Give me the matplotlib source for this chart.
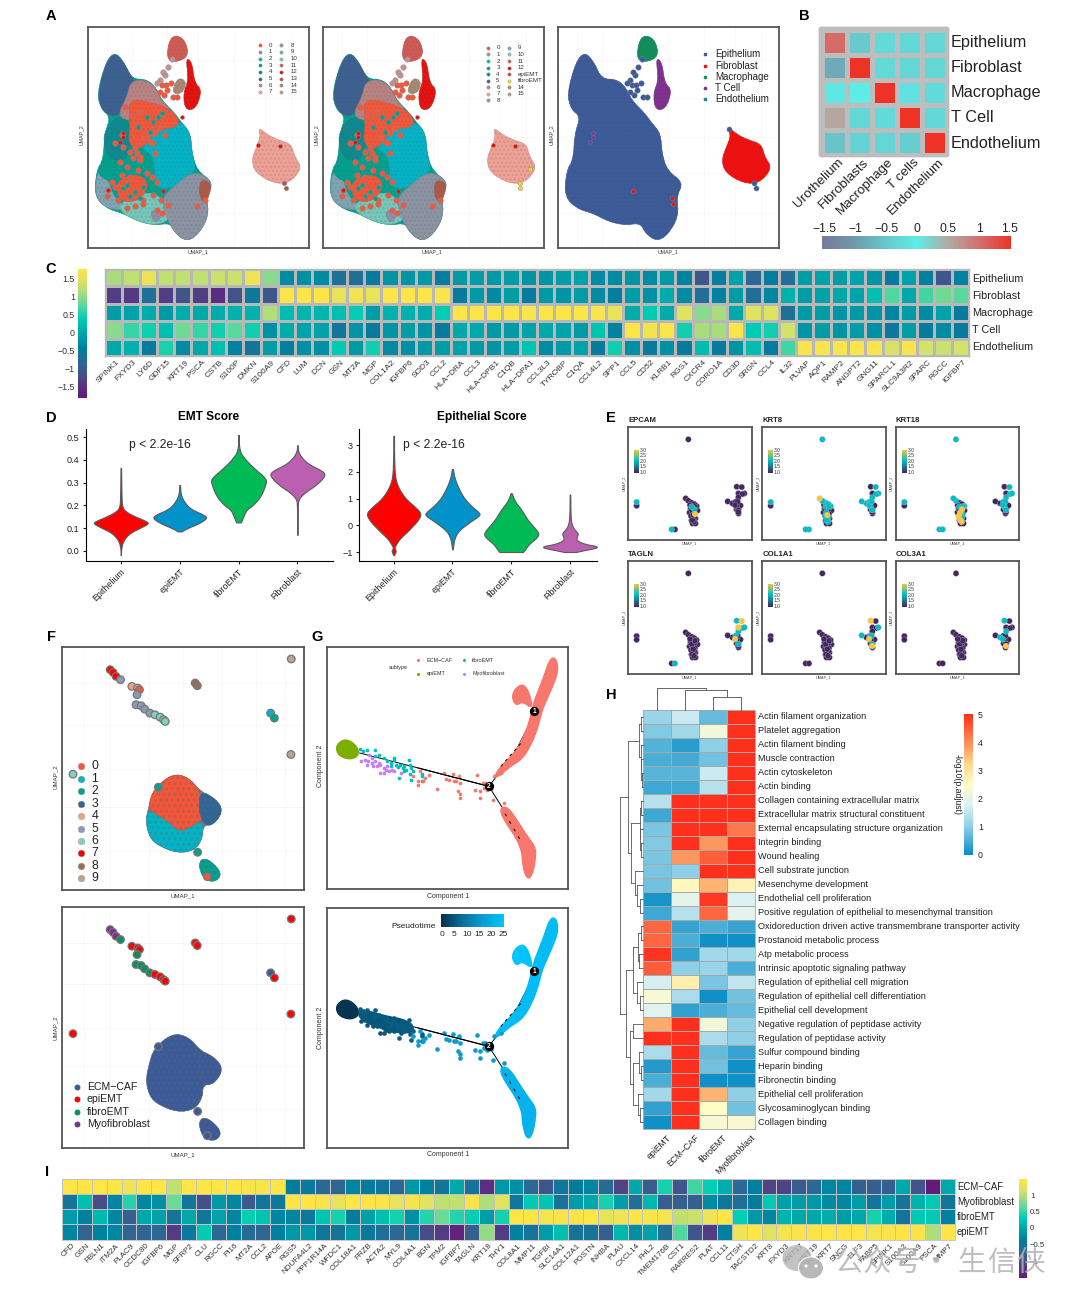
import matplotlib
matplotlib.use('Agg')
import matplotlib.pyplot as plt
import numpy as np
from matplotlib.colors import LinearSegmentedColormap, to_rgb
from matplotlib.patches import Polygon, Circle, Ellipse, FancyBboxPatch

plt.rcParams.update({
    'font.family': ['Liberation Sans', 'Noto Sans CJK SC', 'DejaVu Sans'],
    'hatch.linewidth': 0.3,
    'axes.linewidth': 0.8,
    'xtick.major.size': 2.5,
    'ytick.major.size': 2.5,
})

W, H = 1080, 1306
fig = plt.figure(figsize=(W / 100, H / 100), dpi=100)
BOX = '#555555'

# ========== colour scales ==========
CM_VIR = LinearSegmentedColormap.from_list('vir', [
    (0.00, '#65197c'), (0.16, '#4a4b87'), (0.27, '#2a6a94'), (0.38, '#007f9f'),
    (0.50, '#00a7aa'), (0.61, '#00cdb4'), (0.70, '#4fd8a0'), (0.81, '#a8dd7c'),
    (0.89, '#d8e268'), (1.00, '#ffe546')])
CM_B = LinearSegmentedColormap.from_list('b', [
    (0.00, '#787a9c'), (0.17, '#6f9aab'), (0.33, '#68c6ca'), (0.50, '#5ceee8'),
    (0.67, '#b3aaa3'), (0.83, '#d17270'), (1.00, '#ee3326')])
CM_H = LinearSegmentedColormap.from_list('h', [
    (0.00, '#0a8dc6'), (0.20, '#8fd0e6'), (0.36, '#dff2f3'), (0.50, '#fffcc6'),
    (0.64, '#fedb8e'), (0.80, '#fd8d5a'), (1.00, '#ff2f1e')])
CM_E = LinearSegmentedColormap.from_list('e', ['#43285e', '#00bcc4', '#fdc834'])
CM_PT = LinearSegmentedColormap.from_list('pt', ['#06304a', '#0a6f9a', '#0c9ed4', '#00c4ff'])

# ========== panel A ==========
A_C5 = [(225, 158), (250, 185), (272, 225), (285, 245), (268, 290), (245, 338), (215, 350), (186, 328), (174, 280), (200, 185)]
A_C6 = [(272, 243), (320, 240), (348, 265), (362, 300), (398, 335), (330, 335), (280, 365), (232, 348), (262, 290)]
A_C0 = [(265, 298), (330, 305), (398, 330), (425, 378), (350, 390), (305, 450), (265, 435), (272, 370)]
A_C4 = [(198, 385), (238, 345), (275, 370), (268, 475), (215, 485), (190, 430)]
A_C3 = [(190, 478), (262, 455), (355, 465), (355, 525), (220, 550), (172, 525)]
A_C2 = [(345, 380), (425, 365), (450, 400), (456, 460), (470, 515), (400, 565), (345, 565), (345, 470), (298, 440)]
A_C1 = [(395, 565), (465, 510), (520, 548), (500, 590), (506, 650), (474, 705), (440, 725), (405, 700), (380, 655), (365, 600)]
A_C9 = [(175, 505), (205, 540), (220, 590), (262, 630), (205, 628), (164, 590)]
A_C10 = [(238, 608), (330, 572), (375, 605), (392, 660), (345, 676), (300, 666), (245, 640)]
A_C0B = [(225, 545), (295, 520), (330, 555), (295, 605), (240, 605)]
A_C8 = [(330, 638), (350, 628), (366, 650), (345, 672)]
A_C13 = [(480, 538), (518, 550), (498, 615), (478, 590)]
A_C11 = [(388, 118), (410, 104), (437, 122), (446, 168), (410, 186), (380, 178)]
A_C12 = [(438, 172), (456, 186), (464, 248), (486, 270), (468, 326), (436, 330), (430, 280), (446, 240)]
A_C14 = [(395, 280), (413, 232), (440, 243), (428, 280)]
A_C7 = [(655, 382), (688, 408), (722, 422), (754, 433), (764, 470), (786, 505), (748, 550), (700, 550), (646, 518), (635, 480), (650, 440), (662, 410)]
A_MAIN = [(225, 155), (252, 185), (275, 236), (322, 238), (350, 265), (365, 300), (405, 340), (425, 368), (452, 400), (456, 460), (472, 512), (520, 548), (500, 590), (506, 650), (474, 705), (440, 725), (406, 700), (392, 670), (345, 676), (298, 666), (248, 640), (205, 628), (164, 592), (170, 512), (190, 480), (195, 400), (212, 350), (184, 328), (172, 280), (198, 185)]
A_ORANGE_X = [365, 378, 392, 380, 398, 372, 412, 360, 245, 225, 250, 270, 290, 300, 240, 262, 285, 340, 375, 345, 205, 200, 362, 385, 470, 495, 340, 310, 365, 350, 300,
              315, 330, 345, 360, 280, 295, 320, 270, 245, 225, 215, 235, 260, 285, 310, 335, 350, 275, 300, 255]
A_ORANGE_Y = [255, 255, 250, 270, 292, 285, 292, 275, 405, 430, 440, 455, 460, 480, 485, 500, 445, 430, 405, 460, 570, 590, 600, 615, 620, 600, 585, 600, 640, 630, 470,
              410, 425, 400, 385, 475, 510, 520, 530, 525, 560, 545, 600, 625, 620, 612, 530, 545, 345, 335, 320]
A_TEAL_X = [260, 285, 310, 270, 300, 250, 320, 340, 355, 295, 330, 365]
A_TEAL_Y = [555, 575, 560, 590, 595, 565, 350, 365, 350, 380, 395, 340]
A_ROSY_X = [360, 350, 375, 383, 395, 370]
A_ROSY_Y = [240, 248, 225, 200, 175, 215]
A_RED_X = [248, 240, 250, 655, 720, 205, 368, 425]
A_RED_Y = [398, 425, 412, 435, 437, 570, 572, 350]

A1_LABELS = [['0', '1', '2', '3', '4', '5', '6', '7'], ['8', '9', '10', '11', '12', '13', '14', '15']]
A1_COLORS = [['#f4563a', '#8c93a3', '#00b4c8', '#00a18f', '#0b8a90', '#3c5f92', '#b98283', '#f0a196'],
             ['#8f8fac', '#7fa5b5', '#74c9ba', '#d25a55', '#e80e0e', '#ad5a48', '#a68b72', '#b39a8f']]
A2_LABELS = [['0', '1', '2', '3', '4', '5', '6', '7', '8'], ['9', '10', '11', '12', 'epiEMT', 'fibroEMT', '14', '15']]
A2_COLORS = [['#f4563a', '#8c93a3', '#00b4c8', '#00a18f', '#0b8a90', '#3c5f92', '#b98283', '#f0a196', '#8f8fac'],
             ['#7fa5b5', '#74c9ba', '#d25a55', '#e80e0e', '#ad5a48', '#f5d327', '#a68b72', '#b39a8f']]
A3_LABELS = ['Epithelium', 'Fibroblast', 'Macrophage', 'T Cell', 'Endothelium']
A3_COLORS = ['#3b5a9a', '#f00f0f', '#0e8f5a', '#7f2f8f', '#0f8a8f']

# ========== panel B ==========
B_ROWS = ['Epithelium', 'Fibroblast', 'Macrophage', 'T Cell', 'Endothelium']
B_COLS = ['Urothelium', 'Fibroblasts', 'Macrophage', 'T cells', 'Endothelium']
B_VALUES = [[1.05, -0.45, -0.25, -0.3, -0.3],
            [-0.8, 1.5, -0.25, -0.3, -0.3],
            [-0.1, -0.03, 1.5, -0.15, -0.25],
            [0.55, -0.3, -0.25, 1.5, -0.3],
            [-0.55, -0.35, -0.3, -0.4, 1.5]]
B_TICKS = [-1.5, -1, -0.5, 0, 0.5, 1, 1.5]

# ========== panel C ==========
C_ROWS = ['Epithelium', 'Fibroblast', 'Macrophage', 'T Cell', 'Endothelium']
C_GENES = ['SPINK1', 'FXYD3', 'LY6D', 'GDF15', 'KRT19', 'PSCA', 'CSTB', 'S100P', 'DMKN', 'S100A9',
           'CFD', 'LUM', 'DCN', 'GSN', 'MT2A', 'MGP', 'COL1A2', 'IGFBP6', 'SOD3', 'CCL2',
           'HLA−DRA', 'CCL3', 'HLA−DPB1', 'C1QB', 'HLA−DPA1', 'CCL3L3', 'TYROBP', 'C1QA', 'CCL4L2', 'SPP1',
           'CCL5', 'CD52', 'KLRB1', 'RGS1', 'CXCR4', 'CORO1A', 'CD3D', 'SRGN', 'CCL4', 'IL32',
           'PLVAP', 'AQP1', 'RAMP2', 'ANGPT2', 'GNG11', 'SPARCL1', 'SLC9A3R2', 'SPARC', 'RGCC', 'IGFBP7']
C_EPI = [1.1, 1.25, 1.55, 1.25, 1.25, 1.25, 1.3, 1.3, 1.6, 0.95,
         -0.3, -0.25, -0.3, -0.7, -0.75, -0.5, -0.2, -0.2, -0.15, -0.45,
         -0.15, -0.1, -0.15, -0.1, -0.2, -0.2, -0.1, -0.05, -0.3, -0.3,
         -0.2, -0.3, -0.15, -0.4, -1.05, -0.45, -0.05, -0.85, -0.45, -0.75,
         -0.1, -0.05, -0.1, -0.05, -0.2, -0.5, -0.05, -0.45, -1.05, -0.4]
C_FIB = [-1.35, -1.4, -0.7, -1.35, -1.1, -1.35, -1.55, -1.1, -0.55, -1.05,
         1.75, 1.75, 1.75, 1.55, 1.6, 1.55, 1.75, 1.75, 1.75, 1.7,
         -0.5, -0.15, -0.3, -0.1, -0.5, -0.15, -0.2, -0.1, -0.3, -0.45,
         -0.1, -0.25, 0.05, -0.3, -0.75, -0.4, -0.1, -0.75, -0.35, 0.1,
         -0.1, -0.05, 0.0, -0.05, 0.25, 0.7, 0.0, 0.65, 0.85, 0.75]
C_MAC = [-0.1, -0.05, 0.05, -0.15, 0.05, 0.0, 0.05, 0.1, 0.1, 1.15,
         0.2, 0.15, 0.15, 0.25, 0.4, -0.1, 0.1, 0.1, 0.05, 0.4,
         1.75, 1.75, 1.75, 1.75, 1.7, 1.75, 1.75, 1.75, 1.7, 1.55,
         0.05, 0.35, 0.05, 1.45, 0.95, 1.1, 0.0, 1.45, 1.45, -0.7,
         -0.15, -0.1, -0.2, -0.15, -0.2, -0.35, -0.15, -0.3, -0.05, -0.5]
C_TC = [0.95, 0.6, 0.45, 0.25, 0.85, 0.6, 0.45, 0.75, 0.45, -0.25,
        0.05, -0.05, -0.05, -0.6, -0.2, -0.5, -0.2, -0.1, -0.2, -0.5,
        0.0, 0.0, -0.15, -0.15, -0.05, 0.0, -0.05, -0.15, 0.3, -0.4,
        1.75, 1.65, 1.75, 0.45, 1.1, 1.1, 1.75, 0.35, 0.45, 1.35,
        -0.2, -0.1, -0.2, -0.1, -0.25, -0.55, -0.1, -0.5, -0.3, -0.5]
C_END = [0.0, 0.1, -0.5, 0.5, -0.3, 0.0, 0.25, -0.4, -0.6, -0.1,
         -0.45, -0.25, -0.25, 0.35, -0.15, 0.45, -0.3, -0.25, -0.15, -0.1,
         -0.05, -0.15, -0.2, -0.1, 0.3, -0.3, -0.15, -0.05, -0.5, 0.45,
         -0.25, -0.5, -0.25, -0.5, 0.2, -0.5, -0.2, 0.2, -0.5, 0.65,
         1.7, 1.7, 1.7, 1.7, 1.7, 1.4, 1.7, 1.35, 1.3, 1.35]
C_TICKS = [1.5, 1, 0.5, 0, -0.5, -1, -1.5]

# ========== panel D: violin profiles (value, half width) ==========
D_CATS = ['Epithelium', 'epiEMT', 'fibroEMT', 'Fibroblast']
D_COLORS = ['#ff0000', '#0092c8', '#00ba55', '#bb60b0']
EMT_PROFILES = [
    [(-0.02, 0.0), (0.02, 0.01), (0.05, 0.05), (0.08, 0.16), (0.10, 0.32), (0.12, 0.47), (0.13, 0.44), (0.15, 0.25), (0.17, 0.1), (0.19, 0.02), (0.25, 0.01), (0.365, 0.005)],
    [(0.085, 0.03), (0.10, 0.13), (0.12, 0.32), (0.145, 0.47), (0.16, 0.4), (0.18, 0.22), (0.2, 0.12), (0.24, 0.02), (0.29, 0.005)],
    [(0.125, 0.04), (0.15, 0.08), (0.18, 0.13), (0.2, 0.24), (0.24, 0.38), (0.3, 0.47), (0.32, 0.46), (0.36, 0.28), (0.4, 0.12), (0.44, 0.01), (0.51, 0.005)],
    [(0.07, 0.003), (0.2, 0.005), (0.23, 0.02), (0.26, 0.14), (0.29, 0.32), (0.33, 0.47), (0.35, 0.44), (0.38, 0.2), (0.41, 0.07), (0.44, 0.01), (0.465, 0.003)]]
EPI_PROFILES = [
    [(-1.12, 0.005), (-1.05, 0.02), (-0.95, 0.04), (-0.85, 0.01), (-0.75, 0.03), (-0.5, 0.1), (-0.2, 0.25), (0.2, 0.42), (0.45, 0.47), (0.7, 0.36), (1.0, 0.2), (1.4, 0.08), (1.8, 0.02), (2.5, 0.008), (3.35, 0.005)],
    [(-0.9, 0.005), (-0.5, 0.03), (-0.2, 0.1), (0.1, 0.28), (0.35, 0.45), (0.45, 0.47), (0.7, 0.33), (1.0, 0.2), (1.4, 0.1), (1.8, 0.03), (2.1, 0.01)],
    [(-1.0, 0.2), (-0.95, 0.22), (-0.7, 0.3), (-0.45, 0.44), (-0.3, 0.47), (-0.1, 0.4), (0.2, 0.28), (0.6, 0.17), (0.9, 0.06), (1.2, 0.01)],
    [(-1.0, 0.1), (-0.95, 0.2), (-0.85, 0.44), (-0.78, 0.47), (-0.7, 0.25), (-0.55, 0.1), (-0.4, 0.12), (-0.3, 0.14), (-0.1, 0.05), (0.2, 0.01), (1.15, 0.005)]]

# ========== panel E ==========
E_GENES = ['EPCAM', 'KRT8', 'KRT18', 'TAGLN', 'COL1A1', 'COL3A1']
E_X = [180, 25, 25, 130, 140, 172, 180, 190, 198, 205, 190, 198, 192, 200, 188, 198, 192, 197, 190, 200, 185, 195,
       325, 340, 348, 330, 342, 298, 312, 322, 330, 325, 330, 330, 320, 328]
E_Y = [38, 226, 237, 308, 308, 215, 222, 228, 232, 238, 240, 248, 258, 262, 268, 272, 280, 285, 250, 240, 235, 265,
       180, 181, 200, 200, 202, 224, 230, 225, 212, 240, 250, 256, 235, 225]
E_EPCAM = [1, 2, 1, 2, 1, 1, 1, 1, 1, 1, 2, 2, 1, 3, 1, 1, 1, 1, 1, 1, 1, 1, 1, 1, 1, 1, 1, 1, 1, 1, 1, 1, 1, 1, 1, 1]
E_KRT8 = [2, 2, 1, 2, 2, 3, 2, 2, 2, 2, 2, 1, 2, 1, 2, 2, 2, 2, 1, 2, 1, 3, 1, 2, 2, 1, 2, 2, 2, 2, 2, 2, 2, 1, 2, 2]
E_KRT18 = [2, 2, 1, 2, 2, 2, 2, 1, 1, 2, 2, 3, 3, 2, 3, 2, 3, 3, 1, 2, 1, 2, 1, 2, 2, 1, 2, 1, 1, 2, 2, 2, 2, 1, 2, 2]
E_TAGLN = [1, 1, 1, 1, 2, 1, 1, 1, 1, 1, 1, 1, 1, 1, 1, 1, 1, 1, 1, 1, 1, 1, 2, 3, 2, 3, 2, 1, 1, 2, 2, 1, 2, 1, 3, 1]
E_COL1A1 = [1, 1, 1, 1, 1, 1, 1, 1, 1, 1, 1, 1, 1, 1, 1, 1, 1, 1, 1, 1, 1, 1, 3, 1, 2, 1, 1, 2, 1, 2, 1, 1, 2, 3, 3, 2]
E_COL3A1 = [1, 1, 1, 1, 1, 1, 1, 1, 1, 1, 1, 1, 1, 1, 1, 1, 1, 1, 1, 1, 1, 1, 2, 1, 1, 1, 1, 1, 2, 1, 2, 1, 1, 3, 2, 1]
E_VALUES = [E_EPCAM, E_KRT8, E_KRT18, E_TAGLN, E_COL1A1, E_COL3A1]
E_CORE_X = [185, 195, 200, 190, 197, 193, 185, 195, 188, 200, 192, 205, 183, 200, 325, 330, 322, 335, 328]
E_CORE_Y = [228, 236, 250, 255, 255, 245, 245, 275, 280, 275, 290, 250, 255, 290, 232, 243, 247, 235, 258]
E_TICKS = ['3.0', '2.5', '2.0', '1.5', '1.0']

# ========== panel F ==========
F_MAIN = [(385, 432), (432, 442), (468, 485), (512, 508), (532, 540), (512, 578), (474, 588), (474, 622), (452, 660), (400, 670), (336, 642), (316, 612), (309, 570), (318, 525), (332, 478)]
F_C0 = [(385, 432), (432, 442), (468, 488), (482, 562), (442, 590), (405, 606), (375, 575), (328, 548), (316, 525), (332, 478)]
F_C1 = [(316, 538), (375, 572), (405, 602), (442, 584), (474, 572), (474, 622), (452, 660), (400, 670), (336, 642), (316, 612), (309, 570)]
F_C3 = [(468, 482), (512, 508), (532, 540), (512, 578), (485, 590), (468, 562), (462, 530)]
F_C2 = [(470, 685), (497, 692), (530, 730), (512, 756), (478, 750), (462, 710)]
F_SX = [205, 213, 222, 235, 268, 285, 290, 283, 280, 295, 305, 320, 335, 350, 360, 365, 452, 458, 731, 730, 671, 682, 97, 487, 345, 459]
F_SY = [120, 128, 140, 150, 170, 175, 180, 195, 225, 228, 238, 250, 255, 262, 270, 275, 160, 168, 88, 374, 250, 265, 433, 740, 472, 667]
F1_SC = ['#f00', '#f00', '#f00', '#8c9ab8', '#f0a080', '#f0a080', '#f4563a', '#8c9ab8', '#8c9ab8', '#8c9ab8', '#8c9ab8', '#8c9ab8',
         '#7fd0bd', '#7fd0bd', '#7fd0bd', '#7fd0bd', '#9a6f57', '#9a6f57', '#b9a48f', '#b9a48f', '#00b4c8', '#00a18f', '#7fd0bd', '#f4563a', '#00a18f', '#00a18f']
F2_SC = ['#7f2f8f', '#7f2f8f', '#7f2f8f', '#0e8f5a', '#f00', '#f00', '#f00', '#0e8f5a', '#0e8f5a', '#0e8f5a', '#0e8f5a', '#0e8f5a',
         '#f00', '#f00', '#f00', '#f00', '#f00', '#f00', '#f00', '#f00', '#3b5a9a', '#f00', '#f00', '#3b5a9a', '#3b5a9a', '#3b5a9a']
F_LEGEND_C = ['#f4563a', '#00b4c8', '#00a18f', '#2f6496', '#f0a080', '#8c9ab8', '#7fd0bd', '#f00000', '#9a6f57', '#b9a48f']
F2_LABELS = ['ECM−CAF', 'epiEMT', 'fibroEMT', 'Myofibroblast']
F2_COLORS = ['#3b5a9a', '#f00', '#0e8f5a', '#7f2f8f']

# ========== panel G ==========
G_UP = [(1478, 100), (1465, 140), (1450, 180), (1435, 220), (1425, 265), (1415, 300), (1395, 345), (1370, 380), (1340, 410), (1322, 438),
        (1332, 442), (1365, 412), (1402, 388), (1427, 347), (1447, 295), (1460, 240), (1482, 190), (1506, 130), (1503, 92), (1490, 82)]
G_LOW = [(1345, 530), (1365, 538), (1392, 580), (1417, 620), (1442, 655), (1440, 690), (1434, 725), (1423, 748), (1411, 738), (1403, 700), (1401, 665), (1383, 622), (1353, 577), (1338, 545)]
G_LOBE = [(1405, 162), (1422, 188), (1433, 238), (1402, 215), (1385, 228), (1372, 205), (1380, 178)]
G_START = [(888, 326), (922, 348), (928, 378), (902, 390), (868, 378), (860, 348)]
G_CY_X = [930, 940, 950, 975, 975, 985, 1000, 1010, 1030, 1030, 1020, 1035, 1048, 1055, 1065, 1072, 1075, 1078, 1085, 1058, 1045, 1075, 1080, 1110, 1110, 1110, 1020, 1040, 1060]
G_CY_Y = [358, 365, 362, 360, 380, 375, 385, 395, 385, 392, 410, 405, 405, 415, 420, 390, 405, 415, 425, 425, 445, 432, 452, 432, 440, 455, 400, 412, 410]
G_MG_X = [935, 950, 958, 965, 965, 975, 980, 990, 990, 1000, 1005, 1015, 1000, 1025, 955, 970, 985, 945, 1010, 1030, 1050]
G_MG_Y = [395, 405, 375, 385, 400, 395, 410, 405, 430, 415, 420, 425, 430, 420, 395, 408, 400, 390, 410, 425, 430]
G_SA_X = [1100, 1115, 1100, 1130, 1155, 1175, 1180, 1190, 1200, 1205, 1210, 1218, 1222, 1215, 1222, 1222, 1272, 1265, 1278, 1288, 1295, 1278, 1318, 1340, 1320, 1105, 1120, 1085, 1300, 1310, 1290, 1350]
G_SA_Y = [455, 455, 465, 435, 478, 430, 448, 452, 432, 455, 455, 440, 460, 485, 492, 505, 435, 480, 485, 460, 460, 505, 512, 430, 440, 425, 445, 440, 480, 478, 475, 520]
G_BAND = [(930, 356), (1000, 378), (1072, 392), (1092, 425), (1050, 432), (985, 415), (925, 385)]
G_TRUNK_X = [930, 1100, 1305, 1380, 1425, 1437, 1470]
G_TRUNK_Y = [370, 415, 470, 370, 280, 245, 150]
G_LEG_X = [1305, 1345, 1395, 1420]
G_LEG_Y = [470, 535, 620, 740]
G_DASH_UP_X = [1340, 1403]
G_DASH_UP_Y = [410, 335]
G_DASH_LOW_X = [1352, 1397]
G_DASH_LOW_Y = [552, 632]
G_PT_TICKS = [0, 5, 10, 15, 20, 25]

# ========== panel H ==========
H_TERMS = ['Actin filament organization', 'Platelet aggregation', 'Actin filament binding', 'Muscle contraction',
           'Actin cytoskeleton', 'Actin binding', 'Collagen containing extracellular matrix',
           'Extracellular matrix structural constituent', 'External encapsulating structure organization',
           'Integrin binding', 'Wound healing', 'Cell substrate junction', 'Mesenchyme development',
           'Endothelial cell proliferation', 'Positive regulation of epithelial to mesenchymal transition',
           'Oxidoreduction driven active transmembrane transporter activity', 'Prostanoid metabolic process',
           'Atp metabolic process', 'Intrinsic apoptotic signaling pathway', 'Regulation of epithelial cell migration',
           'Regulation of epithelial cell differentiation', 'Epithelial cell development',
           'Negative regulation of peptidase activity', 'Regulation of peptidase activity', 'Sulfur compound binding',
           'Heparin binding', 'Fibronectin binding', 'Epithelial cell proliferation', 'Glycosaminoglycan binding',
           'Collagen binding']
H_COLS = ['epiEMT', 'ECM−CAF', 'fibroEMT', 'Myofibroblast']
H_EPI = [1.1, 0.9, 0.55, 0.5, 0.6, 0.4, 1.4, 0.4, 0.85, 0.9, 0.85, 0.85, 0.8, 0.1, 0.4,
         4.4, 4.4, 4.95, 4.5, 1.7, 2.3, 1.85, 3.7, 5, 1.3, 0.2, 0.5, 1.2, 0.3, 0.05]
H_ECM = [1.6, 1.2, 0.25, 0.45, 0.6, 0.4, 5, 5, 5, 5, 3.9, 1.0, 2.6, 1.95, 1.4,
         0.35, 0.5, 0.3, 1.0, 2.8, 1.3, 0.3, 5, 5, 5, 5, 5, 5, 5, 5]
H_FIB = [0.7, 2.2, 1.0, 0.8, 1.6, 1.4, 5, 5, 5, 3.9, 4.5, 5, 3.6, 4.9, 4.4,
         0.5, 0.05, 1.2, 1.1, 0.85, 0.05, 0.5, 2.2, 1.3, 0.7, 0.8, 0.05, 3.6, 2.5, 2.3]
H_MYO = [5, 5, 5, 5, 5, 5, 5, 5, 4.2, 5, 5, 5, 2.7, 1.75, 1.9,
         0.35, 0.05, 1.2, 0.5, 1.5, 0.8, 0.7, 1.0, 1.0, 0.35, 0.05, 0.05, 1.0, 0.8, 2.3]
H_ROW_TREE = (22.7,
              (15, (4, (2.5, 0, 1), (2, 2, (1.8, 3, (1.5, 4, 5)))),
               (12, (3.5, (2, 6, 7), (3, 8, (2, 9, 10))), (8, 11, (6.5, 12, (3, 13, 14))))),
              (17, (10, (5, (2.5, 15, 16), (4, 17, 18)), (6.5, 19, (3, 20, 21))),
               (12.7, (10, 22, 23), (10, (4.5, 24, (2.5, 25, 26)), (5.5, 27, (3, 28, 29))))))
H_COL_TREE = (22, 0, (20, 1, (13, 2, 3)))

# ========== panel I ==========
I_ROWS = ['ECM−CAF', 'Myofibroblast', 'fibroEMT', 'epiEMT']
I_GENES = ['CFD', 'GSN', 'FBLN1', 'ITM2A', 'PLAC9', 'CCDC80', 'IGFBP6', 'MGP', 'SFRP2', 'CLU', 'RGCC', 'PI16', 'MT2A', 'CCL2', 'APOE',
           'RGS5', 'NDUFA4L2', 'PPP1R14A', 'WFDC1', 'COL18A1', 'FRZB', 'ACTA2', 'MYL9', 'COL4A1', 'BGN', 'TPM2', 'IGFBP7', 'TAGLN', 'KRT18', 'THY1',
           'COL8A1', 'MMP11', 'TGFBI', 'SLC14A1', 'COL12A1', 'POSTN', 'INHBA', 'PLAU', 'CXCL14', 'FHL2', 'TMEM176B', 'CST1', 'RARRES2', 'PLAT', 'CCL11',
           'CTSH', 'TACSTD2', 'KRT8', 'FXYD3', 'KRT17', 'KRT19', 'KRT7', 'SNCG', 'ELF3', 'FABP5', 'SPINK1', 'S100A2', 'S100A9', 'PSCA', 'MMP7']
I_ECM = [1.5, 1.5, 1.5, 1.5, 1.35, 1.5, 1.5, 1.05, 1.5, 1.5, 1.5, 1.5, 1.45, 1.45, 1.5,
         -0.4, -0.45, -0.7, -0.75, -0.3, -0.4, -0.5, -0.7, -0.15, -0.35, -0.5, 0.0, -0.55, -1.3, -0.15,
         -0.2, -0.7, -0.9, -0.5, -0.4, -0.3, -0.65, -1.1, 0.0, -0.85, 0.4, -0.9, 0.55, 0.35, 0.05,
         -0.7, -0.35, -1.1, -1.1, -0.85, -0.7, -0.3, -0.3, -0.8, -0.8, -0.8, 0.0, -0.9, -1.5, 0.0]
I_MYO = [-0.55, 0.2, -1.0, -0.3, 0.45, -0.3, -0.2, 0.7, -0.5, -0.95, -0.15, -0.3, -0.85, -0.5, -0.45,
         1.5, 1.5, 1.45, 1.3, 1.5, 1.5, 1.45, 1.3, 1.45, 1.25, 1.05, 1.05, 1.45, 0.95, 1.25,
         -0.45, 0.3, 0.25, -0.55, -0.1, 0.0, 0.4, -0.1, -0.6, 0.15, -0.8, -0.8, -0.8, -0.25, -0.45,
         -0.6, -0.4, 0.3, -0.05, -0.1, -0.15, -0.25, -0.3, -0.1, -0.5, -0.1, -0.55, 0.1, 0.3, -0.5]
I_FIB = [-0.1, -0.35, 0.15, -0.3, -0.8, 0.0, -0.05, -0.55, 0.0, -0.5, -0.05, -0.3, 0.35, 0.25, -0.3,
         -0.3, -0.45, 0.25, 0.4, -0.4, -0.05, 0.2, 0.4, -0.2, 0.45, 0.7, 0.45, 0.35, -0.1, 0.4,
         1.5, 1.5, 1.4, 1.45, 1.45, 1.5, 1.3, 1.35, 1.5, 1.45, 1.4, 1.05, 1.1, 1.35, 1.5,
         0.35, -0.15, -0.3, 0.1, 0.0, 0.0, 0.05, -0.1, 0.0, 0.4, 0.05, -0.5, 0.3, 0.3, -0.35]
I_EPI = [-0.3, -0.75, -0.35, -0.3, -0.75, -0.75, -0.7, -1.15, -0.45, 0.3, -0.7, -0.35, -0.65, -0.75, -0.35,
         -0.15, -0.15, -0.5, -0.55, -0.15, -0.45, -0.6, -0.7, -0.55, -1.0, -1.15, -1.4, -0.8, 0.85, -1.15,
         -0.35, -0.55, -0.1, 0.2, -0.55, -0.55, -0.8, 0.15, -0.2, -0.05, -0.6, 0.6, -0.9, -1.15, -0.35,
         1.35, 1.5, 1.25, 1.4, 1.45, 1.45, 1.5, 1.5, 1.5, 1.4, 1.45, 1.5, 1.45, 0.95, 1.5]
I_TICKS = [1, 0.5, 0, -0.5, -1]


def px_axes(x0, y0, x1, y1, **kwargs):
    """axes from pixel corners of the 1080x1306 canvas"""
    return fig.add_axes([x0 / W, 1 - y1 / H, (x1 - x0) / W, (y1 - y0) / H], **kwargs)


def box_axes(x0, y0, x1, y1, xlim, ylim, grid=True):
    """framed panel whose data units are read straight off the picture"""
    ax = px_axes(x0, y0, x1, y1)
    ax.set_xlim(*xlim)
    ax.set_ylim(ylim[1], ylim[0])
    ax.set_xticks([])
    ax.set_yticks([])
    for s in ax.spines.values():
        s.set_color(BOX)
        s.set_linewidth(1.3)
    if grid:
        for f in (0.09, 0.2, 0.36, 0.5, 0.66, 0.8, 0.92):
            ax.axvline(xlim[0] + f * (xlim[1] - xlim[0]), color='#f4f4f4', lw=0.5, zorder=0)
        for f in (0.15, 0.32, 0.5, 0.66, 0.84):
            ax.axhline(ylim[0] + f * (ylim[1] - ylim[0]), color='#f4f4f4', lw=0.5, zorder=0)
    return ax


def rounded(pts, closed=True, n=2):
    """corner cutting, only so that outlines and profiles do not look faceted"""
    p = np.array(pts, dtype=float)
    for _ in range(n):
        a = p if closed else p[:-1]
        b = np.roll(p, -1, axis=0) if closed else p[1:]
        q = np.empty((2 * len(a), 2))
        q[0::2] = 0.75 * a + 0.25 * b
        q[1::2] = 0.25 * a + 0.75 * b
        p = q if closed else np.vstack([p[0], q, p[-1]])
    return p


def blob(ax, pts, color, hatch='oooo', mix=0.22, z=2):
    rim = tuple(np.array(to_rgb(color)) * (1 - mix) + np.array(to_rgb('#666666')) * mix)
    ax.add_patch(Polygon(rounded(pts), closed=True, facecolor=color, edgecolor=rim,
                         lw=0.5, hatch=hatch, joinstyle='round', zorder=z))


def solid(ax, pts, color, z=2):
    ax.add_patch(Polygon(rounded(pts), closed=True, facecolor=color, edgecolor=color, lw=1.0, zorder=z))


def dots(ax, xs, ys, color, s=16, edge='#8a8a8a', z=4):
    ax.scatter(xs, ys, s=s, c=color, edgecolors=edge, linewidths=0.3, zorder=z)


def heat(x0, y0, x1, y1, values, cmap, vmin, vmax, edge, lw):
    ax = px_axes(x0, y0, x1, y1)
    ax.pcolormesh(np.array(values, dtype=float), cmap=cmap, vmin=vmin, vmax=vmax,
                  edgecolors=edge, linewidth=lw)
    ax.invert_yaxis()
    ax.set_yticks([])
    ax.set_xticks([])
    for s in ax.spines.values():
        s.set_color(edge)
        s.set_linewidth(lw)
    return ax


def vbar(x0, y0, x1, y1, cmap):
    ax = px_axes(x0, y0, x1, y1)
    ax.imshow(np.linspace(1, 0, 256).reshape(-1, 1), cmap=cmap, aspect='auto', vmin=0, vmax=1)
    ax.axis('off')


def violin(ax, pos, profile, color):
    p = rounded(profile, closed=False)
    ax.fill_betweenx(p[:, 0], pos - p[:, 1], pos + p[:, 1], facecolor=color, edgecolor='#5a5a5a', lw=0.8, zorder=3)


def tree(node, leaf_pos, seg):
    """walks a nested (height, left, right) tree, returns position and height"""
    if isinstance(node, int):
        return leaf_pos(node), 0
    h, a, b = node
    pa, ha = tree(a, leaf_pos, seg)
    pb, hb = tree(b, leaf_pos, seg)
    seg(pa, ha, pa, h)
    seg(pb, hb, pb, h)
    seg(pa, h, pb, h)
    return (pa + pb) / 2, h


# overlay for panel letters and stray labels, in canvas pixels
ov = px_axes(0, 0, W, H, zorder=20)
ov.set_xlim(0, W)
ov.set_ylim(H, 0)
ov.axis('off')
ov.patch.set_alpha(0)

for letter, lx, ly in [('A', 51, 16), ('B', 804, 16), ('C', 51, 269), ('D', 51, 418), ('E', 611, 418),
                       ('F', 51, 637), ('G', 317, 637), ('H', 611, 695), ('I', 47, 1172)]:
    ov.text(lx, ly, letter, fontsize=10.5, fontweight='bold', ha='center', va='center', color='black')

# ---------- A ----------
A_LIM_X, A_LIM_Y = (143, 807), (80, 745)
for i, x0 in enumerate((87.5, 322.5, 557.5)):
    ax = box_axes(x0, 27, x0 + 221.5, 248, A_LIM_X, A_LIM_Y)
    if i < 2:
        blob(ax, A_MAIN, '#00a18f')
        for pts, c in [(A_C9, '#7fa5b5'), (A_C10, '#74c9ba'), (A_C3, '#00a18f'), (A_C2, '#00b4c8'), (A_C4, '#0b8a90'),
                       (A_C1, '#8c93a3'), (A_C5, '#3c5f92'), (A_C6, '#b98283'), (A_C0, '#f4563a'), (A_C0B, '#f4563a'),
                       (A_C8, '#8f8fac'), (A_C13, '#ad5a48'), (A_C11, '#d25a55'), (A_C12, '#e80e0e'),
                       (A_C14, '#a68b72'), (A_C7, '#f0a196')]:
            blob(ax, pts, c)
        dots(ax, A_ORANGE_X, A_ORANGE_Y, '#f4563a')
        dots(ax, A_TEAL_X, A_TEAL_Y, '#00a18f', s=12)
        dots(ax, A_ROSY_X, A_ROSY_Y, '#c79090')
        dots(ax, A_RED_X, A_RED_Y, '#e80e0e', s=8)
    else:
        blob(ax, A_MAIN, '#3b5a9a')
        blob(ax, A_C11, '#0e8f5a')
        blob(ax, A_C12, '#7f2f8f')
        blob(ax, A_C7, '#f00f0f', mix=0.12)
        dots(ax, A_ORANGE_X[:8], A_ORANGE_Y[:8], '#3b5a9a')
        dots(ax, A_ROSY_X, A_ROSY_Y, '#3b5a9a')
        dots(ax, A_RED_X[:3], A_RED_Y[:3], '#7f2f8f', s=6)
        dots(ax, A_RED_X[6:7], A_RED_Y[6:7], '#f00f0f', s=10)
    if i == 0:
        dots(ax, [733, 737], [550, 565], '#ad5a48', s=10)
    if i == 1:
        dots(ax, [734, 736, 764], [548, 565, 507], '#f5d327', s=10)
    if i == 2:
        dots(ax, [657, 733, 737], [388, 550, 565], '#3b5a9a', s=14)
        dots(ax, [487, 488], [595, 613], '#f00f0f', s=10)

    if i == 0:
        for col, (lx, tx) in enumerate([(660, 687), (724, 752)]):
            for r, (lab, c) in enumerate(zip(A1_LABELS[col], A1_COLORS[col])):
                ax.scatter(lx, 135 + r * 20, s=6, c=c, edgecolors='#888', linewidths=0.2, zorder=6)
                ax.text(tx, 135 + r * 20, lab, fontsize=4.4, va='center', color='#333')
    elif i == 1:
        for col, (lx, tx) in enumerate([(638, 664), (701, 729)]):
            for r, (lab, c) in enumerate(zip(A2_LABELS[col], A2_COLORS[col])):
                ax.scatter(lx, 143 + r * 19.7, s=6, c=c, edgecolors='#888', linewidths=0.2, zorder=6)
                ax.text(tx, 143 + r * 19.7, lab, fontsize=4.4, va='center', color='#333')
    else:
        for r, (lab, c) in enumerate(zip(A3_LABELS, A3_COLORS)):
            ax.scatter(586, 162 + r * 34, s=7, c=c, linewidths=0, zorder=6)
            ax.text(615, 162 + r * 34, lab, fontsize=7, va='center', color='#222')
    ov.text(x0 + 110, 251.5, 'UMAP_1', fontsize=3.8, ha='center', va='center', color='#333')
    ov.text(x0 - 6, 135, 'UMAP_2', fontsize=3.8, rotation=90, ha='center', va='center', color='#333')

# ---------- B ----------
ov_b = FancyBboxPatch((820, 28), 128, 128, boxstyle='round,pad=1,rounding_size=2', facecolor='#bdbdbd', edgecolor='#bdbdbd', lw=0.5, zorder=0)
bg_ax = px_axes(0, 0, W, H, zorder=0)
bg_ax.set_xlim(0, W)
bg_ax.set_ylim(H, 0)
bg_ax.axis('off')
bg_ax.add_patch(ov_b)
ax_b = px_axes(821.5, 30, 946.5, 155, zorder=1)
ax_b.pcolormesh(np.array(B_VALUES), cmap=CM_B, vmin=-1.5, vmax=1.5, edgecolors='#bdbdbd', linewidth=2.4)
ax_b.invert_yaxis()
ax_b.axis('off')
for r, name in enumerate(B_ROWS):
    ov.text(951, 43 + r * 25, name, fontsize=11.7, va='center', color='#222')
for c, name in enumerate(B_COLS):
    ov.text(837 + c * 25.2, 156, name, fontsize=9.6, rotation=45, ha='right', va='top', rotation_mode='anchor', color='#222')
ax_bc = px_axes(822, 236, 1011, 249)
ax_bc.imshow(np.linspace(0, 1, 256).reshape(1, -1), cmap=CM_B, aspect='auto', vmin=0, vmax=1)
ax_bc.axis('off')
for v in B_TICKS:
    label = ('%g' % v).replace('-', '−')
    ov.text(917 + v * 62, 229, label, fontsize=8.7, ha='center', va='center', color='#222')

# ---------- C ----------
ax_c = heat(105, 268.5, 969, 356, [C_EPI, C_FIB, C_MAC, C_TC, C_END], CM_VIR, -1.78, 1.78, '#b8b8b8', 1.0)
ax_c.set_xticks(np.arange(len(C_GENES)) + 0.62)
ax_c.set_xticklabels(C_GENES, rotation=45, ha='right', rotation_mode='anchor', fontsize=6.0, color='#333')
ax_c.tick_params(axis='x', length=0, pad=2)
for r, name in enumerate(C_ROWS):
    ov.text(972, 278.5 + r * 17.2, name, fontsize=7.8, va='center', color='#222')
vbar(78, 269, 87, 398, CM_VIR)
for v in C_TICKS:
    label = ('%g' % v).replace('-', '−')
    ov.text(75, 334 - v * 36, label, fontsize=6.3, ha='right', va='center', color='#333')

# ---------- D ----------
ax_d1 = px_axes(85.5, 429, 332.7, 561)
ax_d2 = px_axes(359, 429, 597, 561)
for a, profiles in [(ax_d1, EMT_PROFILES), (ax_d2, EPI_PROFILES)]:
    for i, prof in enumerate(profiles):
        violin(a, i, prof, D_COLORS[i])
    a.spines['top'].set_visible(False)
    a.spines['right'].set_visible(False)
    a.set_xticks(range(4))
    a.set_xticklabels(D_CATS, rotation=45, ha='right', rotation_mode='anchor', color='#222')
    a.tick_params(labelsize=6.6, pad=2, colors='#222')
    a.tick_params(axis='x', labelsize=6.4)
ax_d1.set_xlim(-0.6, 3.6)
ax_d1.set_ylim(-0.045, 0.536)
ax_d1.set_yticks([0, 0.1, 0.2, 0.3, 0.4, 0.5])
ax_d2.set_xlim(-0.59, 3.46)
ax_d2.set_ylim(-1.336, 3.6)
ax_d2.set_yticks([-1, 0, 1, 2, 3])
ax_d2.set_yticklabels(['−1', '0', '1', '2', '3'])
ov.text(209, 417, 'EMT Score', fontsize=8.6, fontweight='bold', ha='center', va='center')
ov.text(482, 417, 'Epithelial Score', fontsize=8.6, fontweight='bold', ha='center', va='center')
ov.text(129, 445, 'p < 2.2e-16', fontsize=8.7, va='center', color='#222')
ov.text(403, 445, 'p < 2.2e-16', fontsize=8.7, va='center', color='#222')

# ---------- E ----------
E_COLS = (628.3, 762.3, 896)
E_ROWS = (426.7, 560.7)
for g, gene in enumerate(E_GENES):
    x0, y0 = E_COLS[g % 3], E_ROWS[g // 3]
    ax = box_axes(x0, y0, x0 + 123.4, y0 + 113.4, (0, 370), (0, 340), grid=False)
    ax.scatter(E_CORE_X, E_CORE_Y, c='#43285e', s=18, edgecolors='#c9c2d6', linewidths=0.2, zorder=2)
    order = np.argsort(E_VALUES[g])
    ax.scatter(np.array(E_X)[order], np.array(E_Y)[order], c=np.array(E_VALUES[g])[order], cmap=CM_E, vmin=1, vmax=3,
               s=18, edgecolors='#c9c2d6', linewidths=0.2, zorder=3)
    bar = px_axes(x0 + 5.7, y0 + 23, x0 + 10.7, y0 + 46)
    bar.imshow(np.linspace(1, 0, 64).reshape(-1, 1), cmap=CM_E, aspect='auto')
    bar.axis('off')
    for t, label in enumerate(E_TICKS):
        ov.text(x0 + 11.5, y0 + 23.5 + t * 5.6, label, fontsize=3.6, va='center', color='#333')
    ov.text(x0, y0 - 6, gene, fontsize=5.6, fontweight='bold', va='center', color='#222')
    ov.text(x0 + 61, y0 + 117, 'UMAP_1', fontsize=2.8, ha='center', va='center', color='#444')
    ov.text(x0 - 4.5, y0 + 57, 'UMAP_2', fontsize=2.8, rotation=90, ha='center', va='center', color='#444')

# ---------- F ----------
F_LIM_X = (65, 768)
ax_f1 = box_axes(62, 647, 304, 890, F_LIM_X, (52, 780))
ax_f2 = box_axes(62, 907, 304, 1148, F_LIM_X, (52, 777))
blob(ax_f1, F_MAIN, '#777777', hatch=None)
for pts, c in [(F_C1, '#00b4c8'), (F_C0, '#f4563a'), (F_C3, '#2f6496'), (F_C2, '#00a18f')]:
    blob(ax_f1, pts, c, hatch='ooo', mix=0.45)
blob(ax_f2, F_MAIN, '#3b5a9a', hatch='ooo', mix=0.45)
blob(ax_f2, F_C3, '#3b5a9a', hatch='ooo', mix=0.45)
blob(ax_f2, F_C2, '#3b5a9a', hatch='ooo', mix=0.45)
ax_f1.scatter(F_SX, F_SY, s=30, c=F1_SC, edgecolors='#777', linewidths=0.9, zorder=5)
ax_f2.scatter(F_SX, F_SY, s=30, c=F2_SC, edgecolors='#777', linewidths=0.9, zorder=5)
for r, c in enumerate(F_LEGEND_C):
    ax_f1.scatter(120, 410 + r * 37.2, s=24, c=c, edgecolors='#aaa', linewidths=0.3, zorder=6)
    ax_f1.text(150, 410 + r * 37.2, str(r), fontsize=8.8, va='center', color='#222', zorder=6)
for r, (lab, c) in enumerate(zip(F2_LABELS, F2_COLORS)):
    ax_f2.scatter(108, 593 + r * 37.3, s=18, c=c, linewidths=0, zorder=6)
    ax_f2.text(137, 593 + r * 37.3, lab, fontsize=7.6, va='center', color='#222', zorder=6)
for y0, yc in [(896, 777), (1155, 1028)]:
    ov.text(183, y0, 'UMAP_1', fontsize=4.4, ha='center', va='center', color='#333')
    ov.text(55.5, yc, 'UMAP_2', fontsize=4.4, rotation=90, ha='center', va='center', color='#333')

# ---------- G ----------
G_LIM_X = (835, 1535)
ax_g1 = box_axes(327, 647, 568, 889, G_LIM_X, (52, 778), grid=False)
ax_g2 = box_axes(327, 908, 568, 1148, G_LIM_X, (55, 775), grid=False)
for pts in (G_UP, G_LOW, G_LOBE):
    solid(ax_g1, pts, '#f8776d')
solid(ax_g1, G_START, '#7cae00')
ax_g1.scatter(G_MG_X, G_MG_Y, s=7, c='#c77cff', linewidths=0, zorder=3)
ax_g1.scatter(G_CY_X, G_CY_Y, s=7, c='#00bfc4', linewidths=0, zorder=3)
ax_g1.scatter(G_SA_X, G_SA_Y, s=7, c='#f8776d', linewidths=0, zorder=3)

for pts, t in [(G_UP, 23), (G_LOW, 21), (G_LOBE, 25), (G_START, 0.5), (G_BAND, 5)]:
    solid(ax_g2, pts, CM_PT(t / 25))
for xs, ys, t in [(G_MG_X, G_MG_Y, 5), (G_CY_X, G_CY_Y, 6), (G_SA_X, G_SA_Y, 16)]:
    ax_g2.scatter(xs, ys, s=11, c=[CM_PT(t / 25)], linewidths=0, zorder=3)

for a in (ax_g1, ax_g2):
    a.plot(G_TRUNK_X, G_TRUNK_Y, color='black', lw=0.7, zorder=1)
    a.plot(G_LEG_X, G_LEG_Y, color='black', lw=0.7, zorder=1)
    a.plot(G_DASH_UP_X, G_DASH_UP_Y, color='black', lw=0.7, ls=(0, (3, 4)), zorder=4)
    a.plot(G_DASH_LOW_X, G_DASH_LOW_Y, color='black', lw=0.7, ls=(0, (3, 6)), zorder=4)
    a.plot(G_TRUNK_X[1:3], G_TRUNK_Y[1:3], color='black', lw=0.8, zorder=4)
    for bx, by, lab in [(1437, 245, '1'), (1305, 470, '2')]:
        a.scatter(bx, by, s=32, c='black', zorder=6)
        a.text(bx, by, lab, fontsize=4.8, fontweight='bold', color='white', ha='center', va='center', zorder=7)

ax_g1.text(1014, 113, 'subtype', fontsize=3.9, va='center', color='#333')
for lx, tx, ly, lab, c in [(1100, 1125, 92, 'ECM−CAF', '#f8776d'), (1100, 1125, 132, 'epiEMT', '#7cae00'),
                           (1232, 1257, 92, 'fibroEMT', '#00bfc4'), (1232, 1257, 132, 'Myofibroblast', '#c77cff')]:
    ax_g1.scatter(lx, ly, s=5, c=c, linewidths=0)
    ax_g1.text(tx, ly, lab, fontsize=3.9, va='center', color='#333')

# pseudotime bar
bar = px_axes(441.5, 914, 504, 927, zorder=5)
bar.imshow(np.linspace(0, 1, 128).reshape(1, -1), cmap=CM_PT, aspect='auto')
bar.axis('off')
for v in G_PT_TICKS:
    ov.text(442 + v * 2.46, 935, str(v), fontsize=6, ha='center', va='center', color='#222')
ov.text(414, 927, 'Pseudotime', fontsize=6, ha='center', va='center', color='#222')
ov.text(448, 896, 'Component 1', fontsize=5, ha='center', va='center', color='#333')
ov.text(448, 1155, 'Component 1', fontsize=5, ha='center', va='center', color='#333')
ov.text(320, 766, 'Component 2', fontsize=5, rotation=90, ha='center', va='center', color='#333')
ov.text(320, 1028, 'Component 2', fontsize=5, rotation=90, ha='center', va='center', color='#333')

# ---------- H ----------
H_X0, H_X1, H_Y0, H_Y1 = 643, 755, 710, 1129
ax_h = heat(H_X0, H_Y0, H_X1, H_Y1, np.array([H_EPI, H_ECM, H_FIB, H_MYO]).T, CM_H, 0, 5, '#a8a8a8', 0.6)
row_h = (H_Y1 - H_Y0) / len(H_TERMS)
col_w = (H_X1 - H_X0) / 4
for r, term in enumerate(H_TERMS):
    ov.text(758, H_Y0 + (r + 0.5) * row_h, term, fontsize=6.6, va='center', color='#222')
for c, name in enumerate(H_COLS):
    ov.text(H_X0 + (c + 0.85) * col_w, H_Y1 + 4, name, fontsize=6.2, rotation=45, ha='right', va='top',
            rotation_mode='anchor', color='#222')


def row_seg(p0, h0, p1, h1):
    ov.plot([H_X0 - h0, H_X0 - h1], [p0, p1], color='#555', lw=0.6, solid_capstyle='projecting')


def col_seg(p0, h0, p1, h1):
    ov.plot([p0, p1], [H_Y0 - h0, H_Y0 - h1], color='#666', lw=0.7, solid_capstyle='projecting')


tree(H_ROW_TREE, lambda i: H_Y0 + (i + 0.5) * row_h, row_seg)
tree(H_COL_TREE, lambda i: H_X0 + (i + 0.5) * col_w, col_seg)

vbar(964, 714, 973, 855, CM_H)
for v in range(6):
    ov.text(978, 855 - v * 28, str(v), fontsize=6.3, va='center', color='#222')
ov.text(957, 785, '-log10(p.adjust)', fontsize=6.3, rotation=-90, ha='center', va='center', color='#222')

# ---------- I ----------
ax_i = heat(62, 1179, 955, 1239.5, [I_ECM, I_MYO, I_FIB, I_EPI], CM_VIR, -1.5, 1.5, '#c2c2c2', 0.6)
ax_i.set_xticks(np.arange(len(I_GENES)) + 0.62)
ax_i.set_xticklabels(I_GENES, rotation=45, ha='right', rotation_mode='anchor', fontsize=5.8, color='#333')
ax_i.tick_params(axis='x', length=0, pad=2)
for r, name in enumerate(I_ROWS):
    ov.text(957, 1187 + r * 15.1, name, fontsize=6.9, va='center', color='#222')
vbar(1019, 1179, 1027, 1278, CM_VIR)
for v in I_TICKS:
    label = ('%g' % v).replace('-', '−')
    ov.text(1030, 1229 - v * 33, label, fontsize=5.6, va='center', color='#333')

# watermark on top of the gene labels
WM = '#b4b4b4'
ov.add_patch(Ellipse((797, 1258), 29, 26, facecolor=WM, edgecolor='none', alpha=0.8, zorder=30))
ov.add_patch(Ellipse((811, 1268), 25, 22, facecolor=WM, edgecolor='white', lw=0.8, alpha=0.95, zorder=31))
for ex, ey in [(806, 1266), (816, 1266)]:
    ov.add_patch(Circle((ex, ey), 1.6, facecolor='white', edgecolor='none', zorder=32))
for cx, txt in [(849, '公'), (877, '众'), (906, '号'), (936, '·'), (972, '生'), (1001, '信'), (1030, '侠')]:
    ov.text(cx, 1263, txt, fontsize=20.5, ha='center', va='center', color=WM, alpha=0.85, zorder=30,
            family=['Noto Sans CJK SC', 'DejaVu Sans'])

fig.savefig('out.png', dpi=100, facecolor='white')
